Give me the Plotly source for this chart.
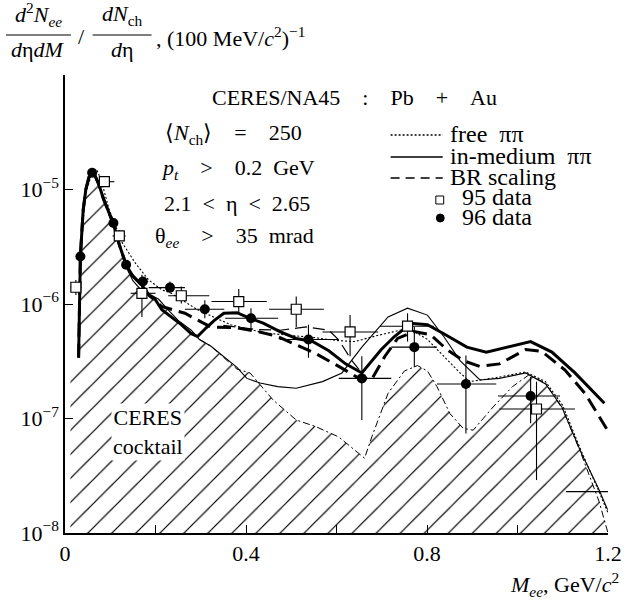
import plotly.graph_objects as go

# ---------------- data ----------------
# 1995 data (open squares): mass, yield, x-range and y-range of error bars
m95 = [0.024, 0.087, 0.120, 0.170, 0.257, 0.384, 0.511, 0.630, 0.757, 1.042]
y95 = [1.40e-6, 1.17e-5, 3.93e-6, 1.24e-6, 1.18e-6, 1.05e-6, 9.0e-7, 5.7e-7, 6.4e-7, 1.21e-7]
m95_lo = [0.012, 0.076, 0.105, 0.145, 0.228, 0.324, 0.451, 0.569, 0.696, 0.960]
m95_hi = [0.036, 0.109, 0.134, 0.200, 0.319, 0.446, 0.572, 0.692, 0.815, 1.127]
y95_lo = [1.20e-6, 1.06e-5, 3.50e-6, 7.7e-7, 1.01e-6, 8.3e-7, 6.3e-7, 3.5e-7, 4.7e-7, 2.9e-8]
y95_hi = [1.62e-6, 1.29e-5, 4.42e-6, 1.8e-6, 1.42e-6, 1.35e-6, 1.16e-6, 8.0e-7, 8.3e-7, 2.1e-7]

# last 1995 bin (only its horizontal bar is visible)
m95_last = [1.153]
y95_last = [2.3e-8]
m95_last_lo = [1.107]
m95_last_hi = [1.200]

# 1996 data (filled circles)
m96 = [0.034, 0.060, 0.107, 0.135, 0.172, 0.232, 0.309, 0.411, 0.538, 0.656, 0.772, 0.886, 1.029]
y96 = [2.6e-6, 1.40e-5, 5.1e-6, 2.2e-6, 1.57e-6, 1.39e-6, 9.0e-7, 7.5e-7, 4.9e-7, 2.24e-7, 4.2e-7, 2.0e-7, 1.57e-7]
m96_lo = [0.034, 0.060, 0.107, 0.135, 0.160, 0.185, 0.265, 0.354, 0.474, 0.605, 0.721, 0.822, 0.957]
m96_hi = [0.034, 0.060, 0.107, 0.135, 0.184, 0.265, 0.352, 0.471, 0.604, 0.721, 0.822, 0.953, 1.094]
y96_lo = [2.6e-6, 1.40e-5, 5.1e-6, 2.2e-6, 1.45e-6, 1.24e-6, 7.5e-7, 5.9e-7, 3.4e-7, 9.7e-8, 2.8e-7, 7.4e-8, 9.1e-8]
y96_hi = [2.6e-6, 1.40e-5, 5.1e-6, 2.2e-6, 1.70e-6, 1.57e-6, 1.08e-6, 9.2e-7, 6.6e-7, 3.5e-7, 6.3e-7, 3.55e-7, 2.3e-7]

# in-medium pi-pi (thick solid)
m_med = [0.030, 0.032, 0.034, 0.040, 0.046, 0.053, 0.060, 0.067, 0.075, 0.085, 0.095, 0.107,
         0.120, 0.135, 0.150, 0.170, 0.185, 0.199, 0.214, 0.239, 0.257, 0.279, 0.293, 0.312,
         0.330, 0.351, 0.380, 0.409, 0.438, 0.475, 0.511, 0.547, 0.583, 0.620, 0.656, 0.699,
         0.728, 0.765, 0.801, 0.837, 0.888, 0.931, 0.975, 1.029, 1.076, 1.127, 1.192]
y_med = [3.4e-7, 1.2e-6, 2.6e-6, 6.5e-6, 1.0e-5, 1.28e-5, 1.38e-5, 1.3e-5, 1.1e-5, 8.3e-6, 6.5e-6, 5.0e-6,
         3.3e-6, 2.2e-6, 1.75e-6, 1.46e-6, 1.2e-6, 1.1e-6, 8.9e-7, 7.5e-7, 6.6e-7, 5.5e-7, 5.2e-7, 6.2e-7,
         7.2e-7, 8.3e-7, 8.4e-7, 7.5e-7, 6.8e-7, 5.75e-7, 5.0e-7, 4.7e-7, 3.9e-7, 3.0e-7, 2.5e-7, 4.0e-7,
         5.2e-7, 6.8e-7, 6.6e-7, 5.5e-7, 4.2e-7, 3.8e-7, 4.2e-7, 4.7e-7, 3.8e-7, 2.5e-7, 1.36e-7]

# Brown-Rho scaling (thick dashed)
m_br = [0.030, 0.032, 0.034, 0.040, 0.046, 0.053, 0.060, 0.067, 0.075, 0.085, 0.095, 0.107,
        0.120, 0.135, 0.150, 0.170, 0.185, 0.214, 0.265, 0.322, 0.380, 0.430, 0.470, 0.511,
        0.554, 0.605, 0.645, 0.678, 0.707, 0.735, 0.772, 0.808, 0.844, 0.880, 0.917, 0.960,
        1.018, 1.054, 1.105, 1.149, 1.199]
y_br = [3.4e-7, 1.2e-6, 2.6e-6, 6.5e-6, 1.0e-5, 1.28e-5, 1.38e-5, 1.3e-5, 1.1e-5, 8.3e-6, 6.5e-6, 5.0e-6,
        3.3e-6, 2.2e-6, 1.75e-6, 1.46e-6, 1.2e-6, 9.5e-7, 8.3e-7, 6.3e-7, 6.2e-7, 5.7e-7, 5.2e-7, 4.4e-7,
        3.7e-7, 2.85e-7, 2.3e-7, 2.2e-7, 3.5e-7, 5.0e-7, 5.75e-7, 5.4e-7, 4.0e-7, 3.2e-7, 2.85e-7, 3.0e-7,
        4.0e-7, 3.85e-7, 2.65e-7, 1.66e-7, 7.9e-8]

# thin dashed variant
m_var = [0.350, 0.420, 0.475, 0.533, 0.583, 0.605, 0.634, 0.656]
y_var = [6.5e-7, 6.0e-7, 5.9e-7, 6.3e-7, 5.9e-7, 4.85e-7, 3.2e-7, 2.5e-7]

# free pi-pi (dotted)
m_free = [0.034, 0.045, 0.060, 0.070, 0.080, 0.098, 0.127, 0.156, 0.185, 0.214, 0.235, 0.293,
          0.366, 0.440, 0.500, 0.550, 0.600, 0.640, 0.690, 0.740, 0.770, 0.801, 0.837, 0.873,
          0.895, 0.917, 0.960, 1.018, 1.062, 1.100, 1.140, 1.180, 1.200]
y_free = [2.6e-6, 9.0e-6, 1.42e-5, 1.5e-5, 1.2e-5, 6.6e-6, 3.4e-6, 2.26e-6, 1.62e-6, 1.33e-6, 1.24e-6, 8.9e-7,
          6.6e-7, 5.6e-7, 5.3e-7, 5.1e-7, 4.8e-7, 4.7e-7, 5.3e-7, 5.9e-7, 5.8e-7, 4.9e-7, 3.5e-7, 2.5e-7,
          2.1e-7, 2.17e-7, 2.3e-7, 2.55e-7, 2.1e-7, 1.3e-7, 5.3e-8, 2.3e-8, 1.5e-8]

# cocktail, upper edge (thin solid)
m_ck = [0.030, 0.034, 0.040, 0.046, 0.053, 0.060, 0.067, 0.075, 0.085, 0.095, 0.107, 0.120,
        0.135, 0.150, 0.170, 0.190, 0.207, 0.228, 0.250, 0.279, 0.297, 0.322, 0.351, 0.380,
        0.402, 0.431, 0.470, 0.511, 0.569, 0.612, 0.656, 0.714, 0.757, 0.801, 0.837, 0.873,
        0.917, 0.960, 1.018, 1.062, 1.098, 1.141, 1.178, 1.199]
y_ck = [3.4e-7, 2.6e-6, 6.5e-6, 1.0e-5, 1.28e-5, 1.36e-5, 1.28e-5, 1.08e-5, 8.2e-6, 6.3e-6, 4.8e-6, 3.2e-6,
        2.1e-6, 1.6e-6, 1.3e-6, 1.2e-6, 1.1e-6, 8.9e-7, 7.2e-7, 5.9e-7, 4.9e-7, 4.3e-7, 3.5e-7, 2.8e-7,
        2.24e-7, 2.04e-7, 1.9e-7, 1.84e-7, 2.1e-7, 2.5e-7, 4.2e-7, 7.7e-7, 9.2e-7, 8.0e-7, 5.2e-7, 3.2e-7,
        2.17e-7, 2.24e-7, 2.5e-7, 2.0e-7, 1.26e-7, 5.0e-8, 2.5e-8, 1.6e-8]

# cocktail, lower edge (thin dash-dot) - bounds the hatched area above 0.3 GeV
m_ckl = [0.297, 0.322, 0.351, 0.380, 0.409, 0.460, 0.511, 0.554, 0.605, 0.649, 0.662, 0.678,
         0.714, 0.750, 0.779, 0.801, 0.822, 0.851, 0.880, 0.902, 0.946, 0.989, 1.025, 1.062,
         1.100, 1.140, 1.180, 1.200]
y_ckl = [4.9e-7, 4.3e-7, 3.4e-7, 2.7e-7, 2.5e-7, 1.45e-7, 9.7e-8, 8.5e-8, 6.9e-8, 5.0e-8, 4.5e-8, 6.9e-8,
         1.66e-7, 2.6e-7, 2.9e-7, 2.6e-7, 1.9e-7, 1.1e-7, 8.2e-8, 7.9e-8, 1.26e-7, 1.9e-7, 2.4e-7, 2.04e-7,
         1.2e-7, 5.0e-8, 1.9e-8, 1.0e-8]

# low-mass shoulder of the hatched cocktail
m_ck0 = [0.012, 0.012]
y_ck0 = [1.0e-8, 2.8e-7]

# axes
x_ticks = [0.0, 0.2, 0.4, 0.6, 0.8, 1.0, 1.2]
x_ticktext = ["0", "", "0.4", "", "0.8", "", "1.2"]
y_ticks = [1e-8, 1e-7, 1e-6, 1e-5, 1e-4]
y_ticktext = ["10<sup>\u22128</sup>", "10<sup>\u22127</sup>", "10<sup>\u22126</sup>", "10<sup>\u22125</sup>", ""]
Y_MIN = 1e-8

# ---------------- figure ----------------
W, H = 634, 601
L, R, T, B = 65, 17, 75, 68
PW, PH = W - L - R, H - T - B
FONT = "Liberation Serif, Times New Roman, serif"
EM = "\u2003"
EN = "\u2002"


def xp(px):
    return (px - L) / PW


def yp(py):
    return (T + PH - py) / PH


fig = go.Figure()

# hatched cocktail region
n_low = m_ck.index(0.297)
hx = m_ck0 + m_ck[:n_low] + m_ckl + [m_ckl[-1]]
hy = y_ck0 + y_ck[:n_low] + y_ckl + [Y_MIN]
hx = hx + [hx[0]]
hy = hy + [hy[0]]
fig.add_trace(go.Scatter(
    x=hx, y=hy, mode="lines", fill="toself", line=dict(width=0, color="black"),
    fillcolor="white",
    fillpattern=dict(shape="/", size=17, solidity=0.07, fgcolor="black", bgcolor="white", fgopacity=1),
    name="CERES cocktail", showlegend=False, hoverinfo="skip"))

fig.add_trace(go.Scatter(x=m_ckl, y=y_ckl, mode="lines", line=dict(color="black", width=1, dash="7px,3px,2px,3px"),
                         name="cocktail (lower)", showlegend=False))
fig.add_trace(go.Scatter(x=m_ck, y=y_ck, mode="lines", line=dict(color="black", width=1.1),
                         name="cocktail", showlegend=False))
fig.add_trace(go.Scatter(x=m_free, y=y_free, mode="lines", line=dict(color="black", width=1.1, dash="2px,2px"),
                         name="free \u03c0\u03c0", showlegend=False))
fig.add_trace(go.Scatter(x=m_var, y=y_var, mode="lines", line=dict(color="black", width=1.2, dash="12px,6px"),
                         name="variant", showlegend=False))
fig.add_trace(go.Scatter(x=m_br, y=y_br, mode="lines", line=dict(color="black", width=3, dash="14px,7px"),
                         name="BR scaling", showlegend=False))
fig.add_trace(go.Scatter(x=m_med, y=y_med, mode="lines", line=dict(color="black", width=3),
                         name="in-medium \u03c0\u03c0", showlegend=False))


def err_x(m, lo, hi):
    return dict(type="data", symmetric=False, array=[h - v for h, v in zip(hi, m)],
                arrayminus=[v - l for v, l in zip(m, lo)], color="black", thickness=1.1, width=0)


def err_y(y, lo, hi):
    return dict(type="data", symmetric=False, array=[h - v for h, v in zip(hi, y)],
                arrayminus=[v - l for v, l in zip(y, lo)], color="black", thickness=1.1, width=0)


fig.add_trace(go.Scatter(
    x=m95_last, y=y95_last, mode="markers",
    marker=dict(size=1, color="rgba(0,0,0,0)"),
    error_x=err_x(m95_last, m95_last_lo, m95_last_hi),
    name="95 data (last bin)", showlegend=False))
fig.add_trace(go.Scatter(
    x=m96, y=y96, mode="markers",
    marker=dict(symbol="circle", size=10, color="black"),
    error_x=err_x(m96, m96_lo, m96_hi), error_y=err_y(y96, y96_lo, y96_hi),
    name="96 data", showlegend=False))
fig.add_trace(go.Scatter(
    x=m95, y=y95, mode="markers",
    marker=dict(symbol="square", size=10, color="white", line=dict(color="black", width=1.2)),
    error_x=err_x(m95, m95_lo, m95_hi), error_y=err_y(y95, y95_lo, y95_hi),
    name="95 data", showlegend=False))

axis_font = dict(family=FONT, size=22, color="black")
fig.update_xaxes(range=[0, 1.2], tickvals=x_ticks, ticktext=x_ticktext, ticks="inside", ticklen=8,
                 tickwidth=1.3, tickcolor="black", showline=True, linecolor="black", linewidth=1.5,
                 showgrid=False, zeroline=False, tickfont=axis_font, mirror=False)
fig.update_yaxes(type="log", range=[-8, -4], tickvals=y_ticks, ticktext=y_ticktext, ticks="inside",
                 ticklen=8, tickwidth=1.3, tickcolor="black", showline=True, linecolor="black",
                 linewidth=1.5, showgrid=False, zeroline=False, tickfont=axis_font, mirror=False)

ann = []
shapes = []


def text(s, px, py, anchor="center", size=22, **kw):
    ann.append(dict(text=s, x=xp(px), y=yp(py), xref="paper", yref="paper", showarrow=False,
                    xanchor=anchor, yanchor="middle", font=dict(family=FONT, size=size, color="black"), **kw))


# vertical axis title: d2N/dηdM / dNch/dη, (100 MeV/c2)^-1
text("<i>d</i><sup>2</sup><i>N</i><sub><i>ee</i></sub>", 38, 15)
text("<i>d</i>\u03b7<i>dM</i>", 38, 50)
shapes.append(dict(type="line", xref="paper", yref="paper", x0=xp(5), x1=xp(71), y0=yp(35), y1=yp(35),
                   line=dict(color="black", width=1.2)))
text("/", 82, 37)
text("<i>dN</i><sub>ch</sub>", 123, 15)
text("<i>d</i>\u03b7", 123, 50)
shapes.append(dict(type="line", xref="paper", yref="paper", x0=xp(93), x1=xp(153), y0=yp(35), y1=yp(35),
                   line=dict(color="black", width=1.2)))
text(", (100 MeV/<i>c</i><sup>2</sup>)<sup>\u22121</sup>", 155, 37, anchor="left")

# horizontal axis title
text("<i>M</i><sub><i>ee</i></sub>, GeV/<i>c</i><sup>2</sup>", 630, 584, anchor="right")

# run conditions
text("CERES/NA45" + EM + ":" + EM + "Pb" + EM + "+" + EM + "Au", 359, 97)
text("\u27e8<i>N</i><sub>ch</sub>\u27e9" + EM + "=" + EM + "250", 236, 134)
text("<i>p</i><sub><i>t</i></sub>" + EM + "&gt;" + EM + "0.2" + EN + "GeV", 241, 169)
text("2.1" + EN + "&lt;" + EN + "\u03b7" + EN + "&lt;" + EN + "2.65", 240, 203)
text("\u03b8<sub><i>ee</i></sub>" + EM + "&gt;" + EM + "35" + EN + "mrad", 237, 237)

# cocktail label over the hatching
text("CERES<br>cocktail", 149, 432, bgcolor="white", borderpad=1)

# key
PIPI = "\u03c0\u03c0"
key_rows = [134, 156, 177, 197, 217]
key_labels = ["free" + EN + PIPI, "in-medium" + EN + PIPI, "BR scaling", "95 data", "96 data"]
key_x = [454, 454, 454, 467, 467]
key_dash = ["2px,2px", "solid", "9px,6px"]
for row, lab, kx in zip(key_rows, key_labels, key_x):
    text(lab, kx, row, anchor="left", size=24)
for row, dsh in zip(key_rows[:3], key_dash):
    shapes.append(dict(type="line", xref="paper", yref="paper", x0=xp(396), x1=xp(449), y0=yp(row + 1),
                       y1=yp(row + 1), line=dict(color="black", width=1.3, dash=dsh)))
sq_row = key_rows[3] + 3
shapes.append(dict(type="rect", xref="paper", yref="paper", x0=xp(442), x1=xp(450),
                   y0=yp(sq_row + 4), y1=yp(sq_row - 4),
                   line=dict(color="black", width=1), fillcolor="white"))
dot_row = key_rows[4] + 1
shapes.append(dict(type="circle", xref="paper", yref="paper", x0=xp(442.5), x1=xp(450.5),
                   y0=yp(dot_row + 4), y1=yp(dot_row - 4),
                   line=dict(color="black", width=1), fillcolor="black"))

fig.update_layout(width=W, height=H, margin=dict(l=L, r=R, t=T, b=B), plot_bgcolor="white",
                  paper_bgcolor="white", showlegend=False, annotations=ann, shapes=shapes,
                  font=dict(family=FONT, color="black"))

fig.write_html("out.html")
